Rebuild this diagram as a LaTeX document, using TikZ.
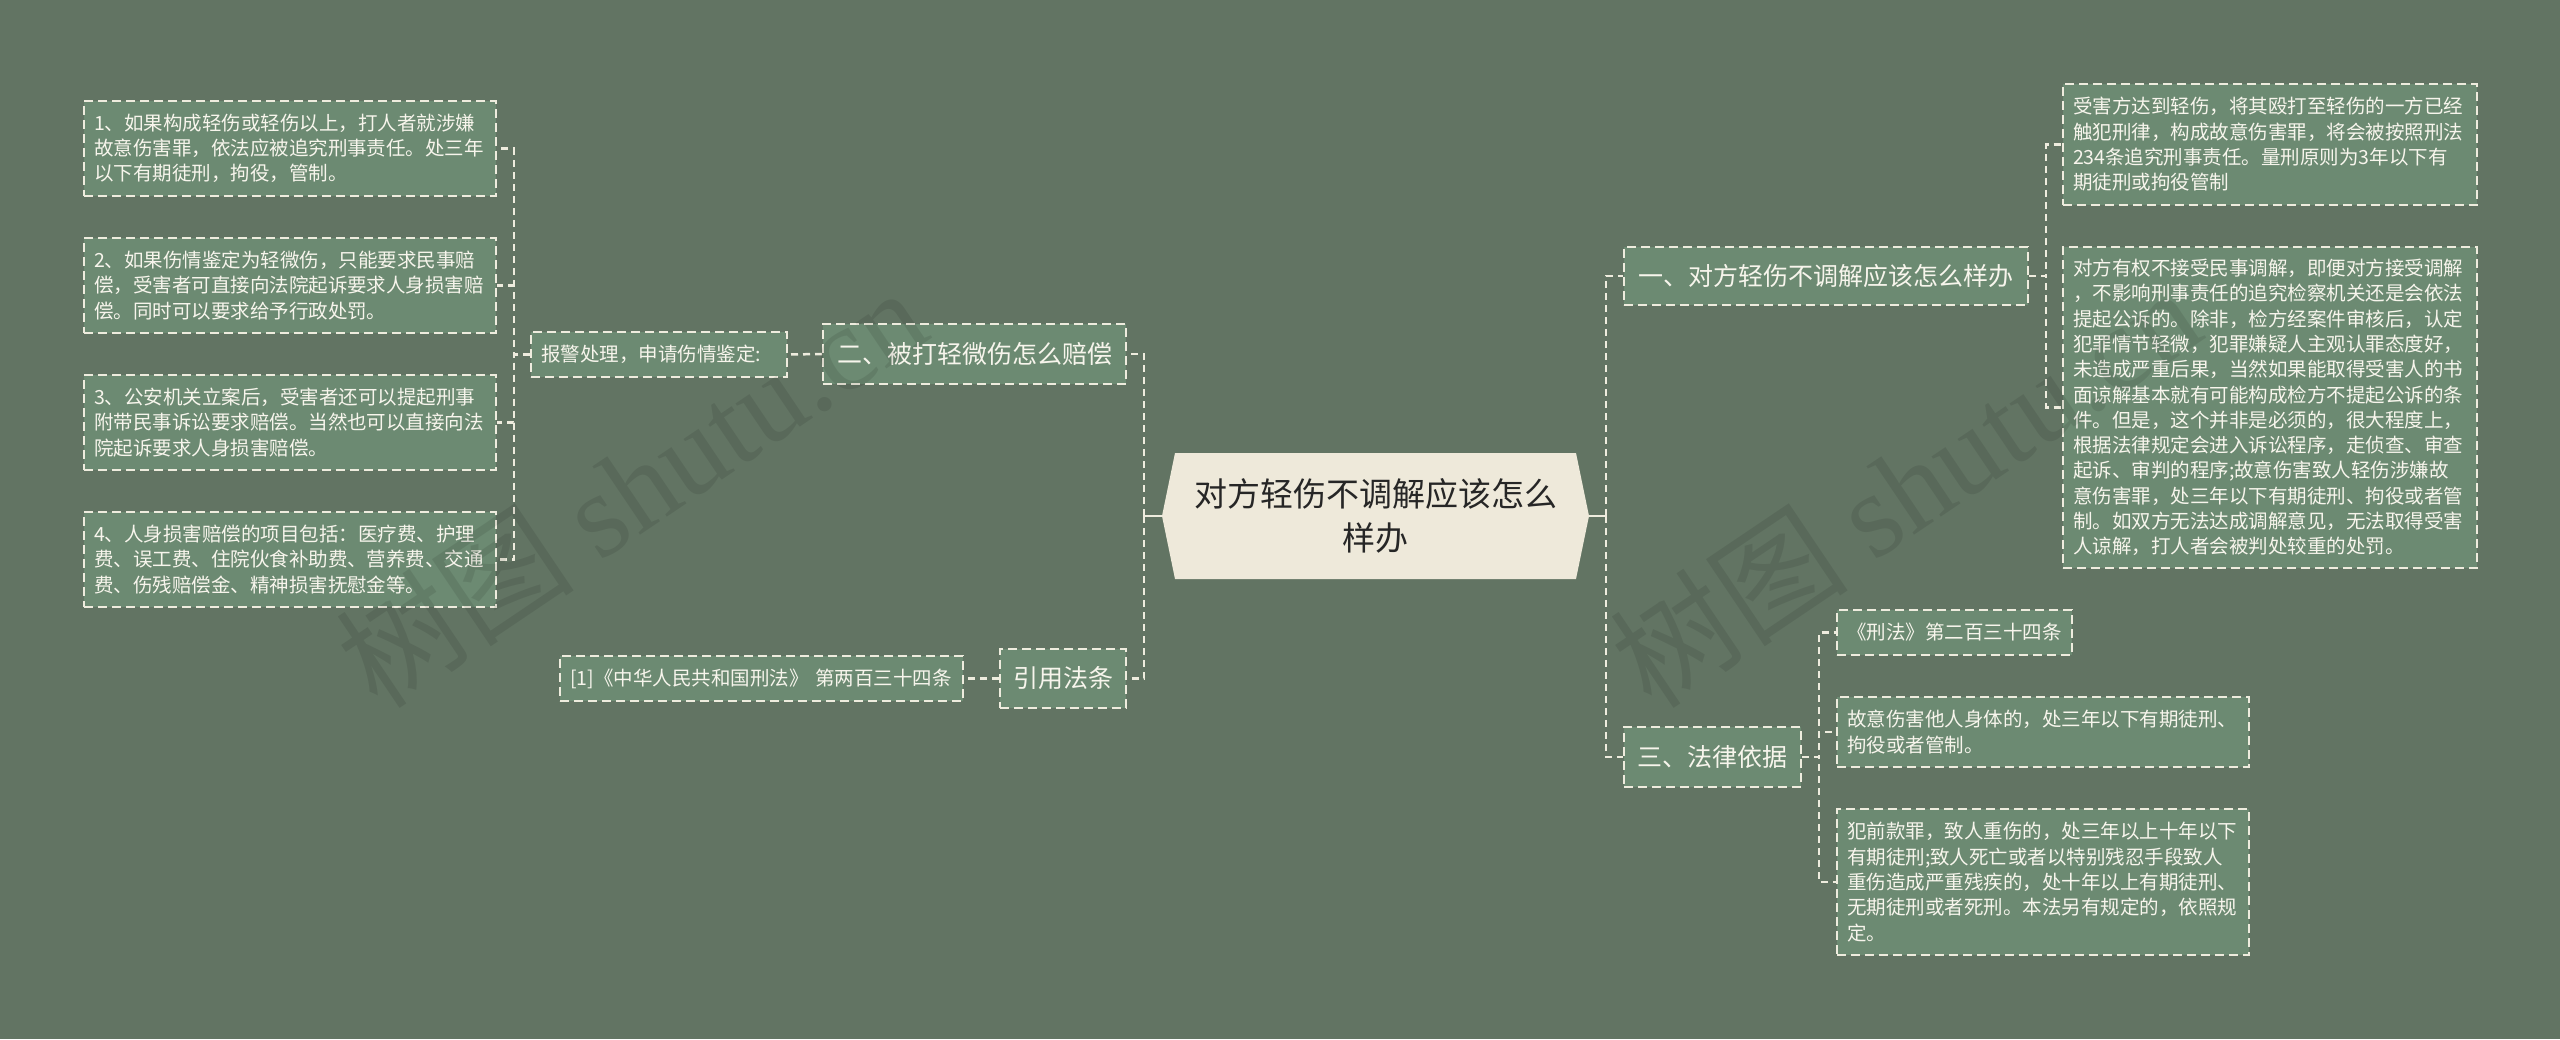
\documentclass[tikz,border=0pt]{standalone}
\usepackage{fontspec}
\setmainfont{Noto Sans CJK SC}
\newfontfamily\wmlat{Liberation Serif}
\definecolor{bgc}{RGB}{98,116,99}
\definecolor{boxc}{RGB}{108,138,114}
\definecolor{dashc}{RGB}{238,236,222}
\definecolor{txtc}{RGB}{247,245,236}
\definecolor{centc}{RGB}{238,233,218}
\definecolor{ctxt}{RGB}{38,38,38}
\tikzset{
  box/.style={draw=dashc, fill=boxc, line width=2pt, dash pattern=on 9pt off 5pt,
    text=txtc, inner ysep=0pt, inner xsep=10pt, align=left,
    font=\fontsize{19.5}{25.3}\selectfont},
  titlebox/.style={box, align=center, inner xsep=0pt, font=\fontsize{25}{30}\selectfont},
  conn/.style={draw=dashc, line width=2.5pt, dash pattern=on 7pt off 5pt},
  stub/.style={draw=dashc, line width=2.5pt},
  wm/.style={text=black, text opacity=0.09, inner sep=0pt, font=\fontsize{120}{120}\selectfont}
}
\begin{document}
\begin{tikzpicture}[x=1pt,y=-1pt]
\fill[bgc] (0,0) rectangle (2560,1039);
\useasboundingbox (0,0) rectangle (2560,1039);

% center node
\node[minimum width=427pt, minimum height=126pt, inner sep=0pt, align=center, text=ctxt,
  font=\fontsize{33}{44}\selectfont,
  path picture={\fill[centc] (path picture bounding box.west)
     -- ([xshift=13pt]path picture bounding box.north west)
     -- ([xshift=-13pt]path picture bounding box.north east)
     -- (path picture bounding box.east)
     -- ([xshift=-13pt]path picture bounding box.south east)
     -- ([xshift=13pt]path picture bounding box.south west) -- cycle;}]
  (C) at (1375.5,516) {对方轻伤不调解应该怎么\\样办};

% left side
\node[titlebox, minimum width=303pt, minimum height=60pt] (B2) at (974.5,354) {二、被打轻微伤怎么赔偿};
\node[titlebox, minimum width=126pt, minimum height=59pt] (Yin) at (1063,678.5) {引用法条};
\node[box, minimum width=256pt, minimum height=45pt, text width=236pt] (P) at (659,354.5) {报警处理，申请伤情鉴定:};
\node[box, minimum width=403pt, minimum height=45pt, text width=383pt] (Ref) at (761.5,678.5) {[1]《中华人民共和国刑法》 第两百三十四条};
\node[box, minimum width=412pt, minimum height=95pt, text width=392pt] (L1) at (290,148.5)
  {1、如果构成轻伤或轻伤以上，打人者就涉嫌\\故意伤害罪，依法应被追究刑事责任。处三年\\以下有期徒刑，拘役，管制。};
\node[box, minimum width=412pt, minimum height=95pt, text width=392pt] (L2) at (290,285.5)
  {2、如果伤情鉴定为轻微伤，只能要求民事赔\\偿，受害者可直接向法院起诉要求人身损害赔\\偿。同时可以要求给予行政处罚。};
\node[box, minimum width=412pt, minimum height=95pt, text width=392pt] (L3) at (290,422.5)
  {3、公安机关立案后，受害者还可以提起刑事\\附带民事诉讼要求赔偿。当然也可以直接向法\\院起诉要求人身损害赔偿。};
\node[box, minimum width=412pt, minimum height=95pt, text width=392pt] (L4) at (290,559.5)
  {4、人身损害赔偿的项目包括：医疗费、护理\\费、误工费、住院伙食补助费、营养费、交通\\费、伤残赔偿金、精神损害抚慰金等。};

% right side
\node[titlebox, minimum width=404pt, minimum height=58pt] (B1) at (1826,276) {一、对方轻伤不调解应该怎么样办};
\node[titlebox, minimum width=177pt, minimum height=60pt] (B3) at (1712.5,757) {三、法律依据};
\node[box, minimum width=414pt, minimum height=121pt, text width=394pt] (RA) at (2270,144.5)
  {受害方达到轻伤，将其殴打至轻伤的一方已经\\触犯刑律，构成故意伤害罪，将会被按照刑法\\234条追究刑事责任。量刑原则为3年以下有\\期徒刑或拘役管制};
\node[box, minimum width=414pt, minimum height=321pt, text width=394pt] (RB) at (2270,407.5)
  {对方有权不接受民事调解，即便对方接受调解\\，不影响刑事责任的追究检察机关还是会依法\\提起公诉的。除非，检方经案件审核后，认定\\犯罪情节轻微，犯罪嫌疑人主观认罪态度好，\\未造成严重后果，当然如果能取得受害人的书\\面谅解基本就有可能构成检方不提起公诉的条\\件。但是，这个并非是必须的，很大程度上，\\根据法律规定会进入诉讼程序，走侦查、审查\\起诉、审判的程序;故意伤害致人轻伤涉嫌故\\意伤害罪，处三年以下有期徒刑、拘役或者管\\制。如双方无法达成调解意见，无法取得受害\\人谅解，打人者会被判处较重的处罚。};
\node[box, minimum width=235pt, minimum height=45pt, text width=215pt] (RC) at (1954.5,632.5) {《刑法》第二百三十四条};
\node[box, minimum width=412pt, minimum height=70pt, text width=392pt] (RD) at (2043,732)
  {故意伤害他人身体的，处三年以下有期徒刑、\\拘役或者管制。};
\node[box, minimum width=412pt, minimum height=146pt, text width=392pt] (RE) at (2043,882)
  {犯前款罪，致人重伤的，处三年以上十年以下\\有期徒刑;致人死亡或者以特别残忍手段致人\\重伤造成严重残疾的，处十年以上有期徒刑、\\无期徒刑或者死刑。本法另有规定的，依照规\\定。};

% junctions
\coordinate (cl) at (1144,516);
\coordinate (cr) at (1606,516);
\coordinate (pj) at (514,354.5);
\coordinate (b1j) at (2046,276);
\coordinate (b3j) at (1819,757);

% connectors
\draw[stub] (C.west) -- (cl);
\draw[stub] (C.east) -- (cr);
\draw[conn] (cl) |- (B2.east);
\draw[conn] (cl) |- (Yin.east);
\draw[conn] (cr) |- (B1.west);
\draw[conn] (cr) |- (B3.west);
\draw[conn] (B2.west) -- (P.east);
\draw[conn] (Yin.west) -- (Ref.east);
\foreach \n in {L1,L2,L3,L4} \draw[conn] (P.west) -- (pj) |- (\n.east);
\foreach \n in {RA,RB} \draw[conn] (B1.east) -- (b1j) |- (\n.west);
\foreach \n in {RC,RD,RE} \draw[conn] (B3.east) -- (b3j) |- (\n.west);

% watermarks
\node[wm, anchor=base west, rotate=34] (wm1) at (378,712) {树图 {\wmlat shutu.cn}};
\node[wm, anchor=base west, rotate=34] (wm2) at (1652,712) {树图 {\wmlat shutu.cn}};
\end{tikzpicture}
\end{document}
